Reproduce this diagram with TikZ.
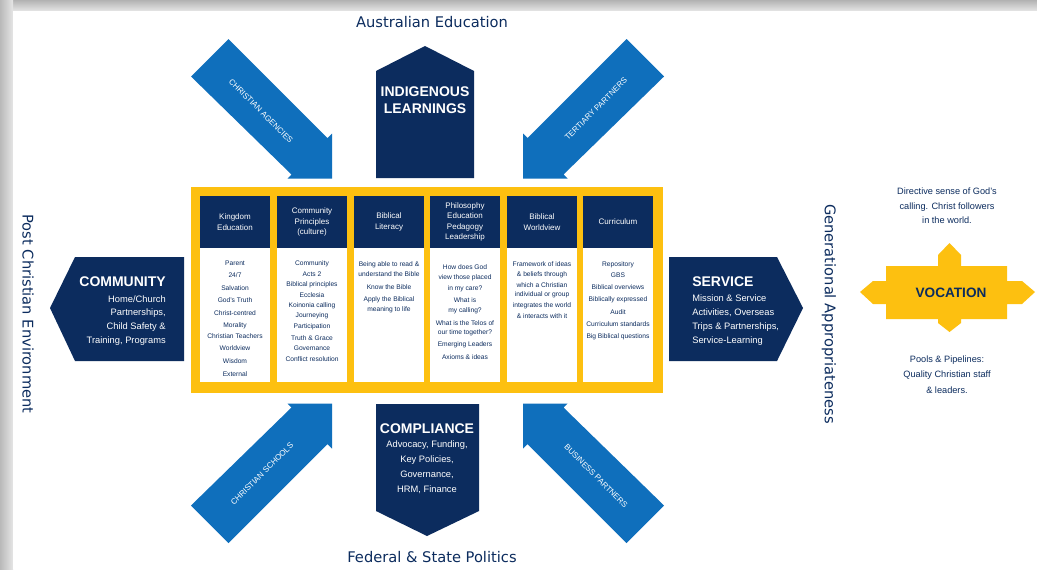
\documentclass[tikz,border=0pt]{standalone}
\usepackage{fontspec}
\setmainfont{Liberation Sans}
\newfontfamily\dejavu{DejaVu Sans}
\definecolor{navy}{HTML}{0C2C5E}
\definecolor{ablue}{HTML}{0F6FBC}
\definecolor{gold}{HTML}{FDC010}
\begin{document}
\begin{tikzpicture}[x=0.75pt,y=-0.75pt,
  ttl/.style={text=white, font=\bfseries\fontsize{10.5}{12.5}\selectfont, inner sep=0, align=center},
  sub/.style={text=white, font=\fontsize{7}{8}\selectfont, inner sep=0},
  hd/.style={text=white, font=\fontsize{6}{7.7}\selectfont, align=center, inner sep=0},
  bd/.style={text=navy, font=\fontsize{5}{6}\selectfont, inner sep=0},
  arrlbl/.style={text=white, font=\fontsize{6}{7}\selectfont, inner sep=0},
  side/.style={text=navy, font=\dejavu\fontsize{11}{13}\selectfont, inner sep=0},
  voc/.style={text=navy, font=\fontsize{6.9}{8}\selectfont, inner sep=0},
  bluearr/.pic={\fill[ablue] (228.5,39) -- (327.5,138) -- (332,133.5) -- (332,178.5) -- (287.5,178.5) -- (291.5,174.5) -- (191,76.5) -- cycle;}
]
\useasboundingbox (0,0) rectangle (1037,569);
% frame
\shade[top color=gray!60, bottom color=gray!20] (0,0) rectangle (1037,11);
\shade[left color=gray!55, right color=gray!20] (0,0) rectangle (13,569);
\fill[white] (13,11) rectangle (1037,569);

% outer labels
\node[side] (austed) at (432,22) {Australian Education};
\node[side] (fedpol) at (432,557) {Federal \& State Politics};
\node[side, rotate=-90] (postchr) at (28,314) {Post Christian Environment};
\node[side, rotate=-90] (genapp) at (829,314) {Generational Appropriateness};

% blue diagonal arrows
\pic at (0,0) {bluearr};
\pic[xscale=-1] at (855,0) {bluearr};
\pic[yscale=-1] at (0,582) {bluearr};
\pic[xscale=-1,yscale=-1] at (855,582) {bluearr};
\node[arrlbl, rotate=-45] (ca) at (261,111) {CHRISTIAN AGENCIES};
\node[arrlbl, rotate=45] (tp) at (596,109) {TERTIARY PARTNERS};
\node[arrlbl, rotate=45] (cs) at (262,474) {CHRISTIAN SCHOOLS};
\node[arrlbl, rotate=-45] (bp) at (596,476) {BUSINESS PARTNERS};

% navy shapes
\fill[navy] (376,178) -- (376,71) -- (425,46) -- (474,71) -- (474,178) -- cycle;
\node[ttl] (indig) at (425,100) {INDIGENOUS\\LEARNINGS};

\fill[navy] (376,404) -- (479,404) -- (479,511) -- (427,536) -- (376,511) -- cycle;
\node[ttl] (comp) at (427,428.3) {COMPLIANCE};
\foreach \yy/\s [count=\i] in {445/{Advocacy, Funding,}, 460/{Key Policies,}, 475/{Governance,}, 489.5/{HRM, Finance}}
  \node[sub] (comp\i) at (427,\yy) {\s};

\fill[navy] (50,308) -- (75,257) -- (184,257) -- (184,361) -- (75,361) -- cycle;
\node[ttl, anchor=east] (comm) at (166,281.7) {COMMUNITY};
\foreach \yy/\s [count=\i] in {299/Home{/}Church, 313.3/{Partnerships,}, 327.3/Child Safety \&, 340.7/{Training, Programs}}
  \node[sub, anchor=east] (comm\i) at (166,\yy) {\s};

\fill[navy] (669,257) -- (777,257) -- (803,308) -- (777,361) -- (669,361) -- cycle;
\node[ttl, anchor=west] (serv) at (692,281.7) {SERVICE};
\foreach \yy/\s [count=\i] in {298.3/Mission \& Service, 312.7/{Activities, Overseas}, 326.7/{Trips \& Partnerships,}, 341/Service-Learning}
  \node[sub, anchor=west] (serv\i) at (692,\yy) {\s};

% central yellow box
\fill[gold] (191,187) rectangle (663,393);
\foreach \x in {200,277,354,430,507,583}{
  \fill[white] (\x,196) rectangle ++(70,186);
  \fill[navy] (\x,196) rectangle ++(70,52);
}
\node[hd] (h1) at (235,222) {Kingdom\\Education};
\node[hd] (h2) at (312,222) {Community\\Principles\\(culture)};
\node[hd] (h3) at (389,222) {Biblical\\Literacy};
\node[hd] (h4) at (465,222) {Philosophy\\Education\\Pedagogy\\Leadership};
\node[hd] (h5) at (542,222) {Biblical\\Worldview};
\node[hd] (h6) at (618,222) {Curriculum};

\foreach \yy/\s [count=\i] in {263.3/Parent, 275/24{/}7, 287.7/Salvation, 300.3/God's Truth, 313/Christ-centred, 325.3/Morality, 336/Christian Teachers, 348.3/Worldview, 361/Wisdom, 373.7/External}
  \node[bd] (ba\i) at (235,\yy) {\s};
\foreach \yy/\s [count=\i] in {263.3/Community, 274.3/Acts 2, 284.3/Biblical principles, 294.7/Ecclesia, 305.7/Koinonia calling, 316/Journeying, 327/Participation, 338/Truth \& Grace, 348.3/Governance, 358.7/Conflict resolution}
  \node[bd] (bb\i) at (312,\yy) {\s};
\foreach \yy/\s [count=\i] in {264.3/Being able to read \&, 274.3/understand the Bible, 286.7/Know the Bible, 299.3/Apply the Biblical, 310/meaning to life}
  \node[bd] (bc\i) at (389,\yy) {\s};
\foreach \yy/\s [count=\i] in {267.3/How does God, 278/view those placed, 289/in my care?, 300.3/What is, 311/my calling?, 322.7/What is the Telos of, 332.7/our time together?, 345/Emerging Leaders, 357/Axioms \& ideas}
  \node[bd] (bdd\i) at (465,\yy) {\s};
\foreach \yy/\s [count=\i] in {263.7/Framework of ideas, 274.3/\& beliefs through, 285/which a Christian, 295/individual or group, 305.7/integrates the world, 316/\& interacts with it}
  \node[bd] (be\i) at (542,\yy) {\s};
\foreach \yy/\s [count=\i] in {264.3/Repository, 274.7/GBS, 287/Biblical overviews, 299.7/Biblically expressed, 312/Audit, 324/Curriculum standards, 337/Big Biblical questions}
  \node[bd] (bf\i) at (618,\yy) {\s};

% vocation
\fill[gold] (860,292) -- (873,281) -- (886,281) -- (886,266) -- (938,266) -- (938,255) -- (949.5,243) -- (961,255) -- (961,266)
  -- (1007,266) -- (1007,281) -- (1022,281) -- (1035,292) -- (1022,304) -- (1007,304) -- (1007,319) -- (961,319) -- (961,323)
  -- (949.5,332) -- (938,323) -- (938,319) -- (886,319) -- (886,304) -- (873,304) -- cycle;
\node[text=navy, font=\bfseries\fontsize{10.2}{12}\selectfont, inner sep=0] (vocation) at (951,292.5) {VOCATION};
\foreach \yy/\s [count=\i] in {191.7/Directive sense of God's, 206.7/{calling. Christ followers}, 220/in the world.}
  \node[voc] (vt\i) at (947,\yy) {\s};
\foreach \yy/\s [count=\i] in {360/Pools \& Pipelines:, 375/Quality Christian staff, 390/\& leaders.}
  \node[voc] (vb\i) at (947,\yy) {\s};
\end{tikzpicture}
\end{document}
